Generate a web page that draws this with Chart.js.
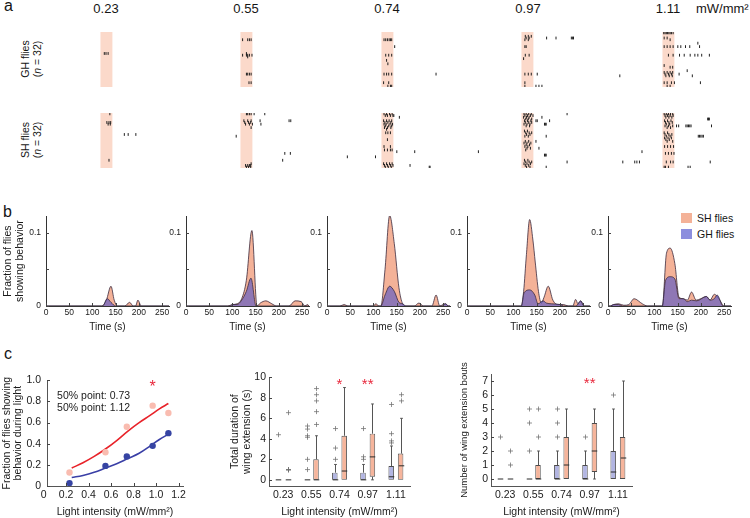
<!DOCTYPE html>
<html>
<head>
<meta charset="utf-8">
<script src="https://cdn.jsdelivr.net/npm/chart.js@4.4.0/dist/chart.umd.min.js"></script>
<style>
  body { margin: 0; background: #fff; }
  #fig { position: relative; width: 750px; height: 518px; overflow: hidden;
         font-family: "Liberation Sans", Arial, sans-serif; color: #151515; }
  #fig canvas { position: absolute; }
  .lbl { position: absolute; white-space: nowrap; line-height: 1; }
  .head { font-size: 13px; transform: translateX(-50%); }
  .rot { position: absolute; white-space: nowrap; font-size: 10.5px; line-height: 12px; text-align: center;
         transform: translate(-50%, -50%) rotate(-90deg); }
  .sw { position: absolute; width: 11px; height: 10px; }
</style>
</head>
<body>
<div id="fig">
  <div class="lbl" style="left:4px;top:-2px;font-size:16px">a</div>
  <div class="lbl" style="left:3px;top:204px;font-size:16px">b</div>
  <div class="lbl" style="left:4px;top:346px;font-size:16px">c</div>

  <div class="lbl head" style="left:106px;top:2px">0.23</div>
  <div class="lbl head" style="left:246px;top:2px">0.55</div>
  <div class="lbl head" style="left:387px;top:2px">0.74</div>
  <div class="lbl head" style="left:528px;top:2px">0.97</div>
  <div class="lbl head" style="left:668px;top:2px">1.11</div>
  <div class="lbl" style="left:696px;top:2px;font-size:13px">mW/mm²</div>

  <div class="rot" style="left:31px;top:59px">GH flies<br>(<i>n</i> = 32)</div>
  <div class="rot" style="left:31px;top:140px">SH flies<br>(<i>n</i> = 32)</div>

  <div class="sw" style="left:681px;top:213px;background:#f4b298"></div>
  <div class="lbl" style="left:697px;top:213px;font-size:10.5px">SH flies</div>
  <div class="sw" style="left:681px;top:229px;background:rgb(140,142,222)"></div>
  <div class="lbl" style="left:697px;top:229px;font-size:10.5px">GH flies</div>
</div>

<script>
// ---- data ----
const intensities = ['0.23', '0.55', '0.74', '0.97', '1.11'];
const lightWindow = [116, 144];

// raster rows: [fly, [times of wing extension (s)]]
const ghRows = [
  [[13, [125, 129, 134]]],
  [[5, [121, 133, 137, 141]], [13, [130]], [14, [121, 130, 133, 137, 143]], [15, [133]], [25, [130, 133, 137, 141]], [30, [136, 141]]],
  [[5, [122, 126, 130, 134, 137, 140]], [9, [147]], [14, [126, 133, 140]], [17, [128]], [19, [131]], [25, [122, 128, 133, 140, 244]], [30, [121, 133]], [32, [131, 137, 140]]],
  [[3, [125, 132, 139]], [4, [127, 134, 175, 197, 233, 236, 238]], [5, [124, 132]], [9, [124, 127]], [14, [125, 134]], [16, [121]], [25, [124, 132, 139, 153]], [30, [124]], [32, [124, 150, 157, 164]]],
  [[1, [119, 122, 125, 128, 131, 134, 137, 141]], [4, [120, 127]], [5, [134]], [7, [199]], [9, [120, 127, 134, 141, 152, 159, 170, 180, 203]], [14, [130, 141, 156, 167, 181, 192, 199, 208, 226]], [20, [120]], [21, [134, 140]], [23, [174]], [24, [120, 127, 134, 140]], [25, [122, 130, 137, 155]], [26, [16, 124, 132, 139, 186]], [30, [120, 127, 137, 144, 205]], [32, [127, 134]]]
];
const shRows = [
  [[1, [138]], [6, [131, 136, 140]], [7, [134, 139]], [13, [172, 181, 199]], [28, [136]]],
  [[1, [130, 133, 137, 141, 148, 173]], [5, [124, 133, 141, 162, 230, 234]], [6, [126, 135, 140]], [7, [128, 137, 144, 164]], [9, [141]], [14, [106]], [24, [220, 233]], [28, [215]], [30, [141]], [31, [128, 133, 137, 140]], [32, [130, 135, 140]]],
  [[1, [122, 128, 135, 141]], [2, [125, 130, 137, 143, 145]], [3, [158]], [5, [121, 128, 134, 140]], [6, [124, 131, 138]], [7, [122, 127, 136, 142]], [8, [125, 133, 140]], [9, [123, 130, 138]], [10, [128]], [12, [126, 131, 137]], [16, [130]], [20, [122, 137]], [22, [123, 130, 137, 141]], [23, [152, 194]], [26, [36, 102]], [30, [121, 128, 135, 141]], [31, [123, 130, 137, 143, 183]], [32, [125, 132, 139, 228, 230]]],
  [[1, [122, 127, 133, 139, 223]], [2, [124, 130, 137, 143]], [3, [121, 128, 134, 164]], [4, [126, 132, 140]], [5, [123, 130, 138, 150, 153, 182]], [6, [125, 133, 140]], [7, [122, 129, 136, 170, 172, 174]], [8, [127, 135]], [11, [123, 130]], [12, [126, 134, 140]], [13, [128, 136]], [14, [124, 132, 174]], [17, [125, 133, 150]], [18, [122, 129, 138]], [19, [127, 135]], [20, [124, 131]], [21, [129, 137, 157]], [22, [126]], [23, [15]], [25, [170, 172, 174]], [28, [123, 131]], [29, [126, 134, 140, 223]], [30, [122, 129, 137]], [31, [125, 133]], [32, [128, 136, 174]]],
  [[1, [120, 125, 130, 135, 140]], [2, [122, 128, 134, 141]], [3, [124, 131, 138]], [4, [222, 224, 226]], [5, [121, 128, 136]], [6, [123, 131, 139]], [7, [125, 133]], [8, [122, 130, 140, 149, 154, 171, 174, 177, 180, 183, 231]], [9, [127, 135]], [12, [120, 128]], [13, [122, 131, 138]], [14, [125, 134, 200, 203, 206, 209, 212]], [15, [121, 129, 137]], [16, [124, 132]], [17, [127, 140]], [20, [121, 128, 135, 142]], [23, [68]], [24, [123, 130, 137, 143]], [29, [23, 51, 56, 62, 125, 135, 141, 228]], [32, [120, 123, 130, 176, 181]]]
];

// fraction of flies showing behaviour: [time (s), fraction]
const shTrace = [
  [[0, 0], [120, 0], [130, 0.008], [140, 0.027], [147, 0.008], [154, 0], [170, 0], [180, 0.005], [188, 0], [193, 0], [198, 0.008], [205, 0], [265, 0]],
  [[0, 0], [90, 0], [100, 0.002], [110, 0.003], [120, 0.01], [130, 0.035], [142, 0.103], [153, 0], [160, 0.004], [172, 0.007], [185, 0.003], [195, 0], [222, 0], [235, 0.007], [248, 0.006], [256, 0], [262, 0.002], [265, 0]],
  [[0, 0], [28, 0], [37, 0.002], [45, 0], [100, 0], [105, 0.003], [112, 0], [116, 0], [125, 0.05], [135, 0.1236], [145, 0.085], [155, 0.025], [163, 0.003], [170, 0], [188, 0], [198, 0.004], [208, 0], [226, 0], [235, 0.015], [243, 0], [250, 0.002], [255, 0.003], [262, 0], [265, 0]],
  [[0, 0], [117, 0], [122, 0.02], [128, 0.07], [135, 0.118], [142, 0.09], [147, 0.06], [154, 0.02], [160, 0.004], [166, 0.012], [175, 0.027], [185, 0.008], [195, 0.002], [208, 0.002], [218, 0], [228, 0], [234, 0.009], [239, 0.003], [245, 0.007], [252, 0], [265, 0]],
  [[0, 0], [5, 0], [12, 0.002], [23, 0.003], [34, 0.001], [45, 0.002], [56, 0.01], [74, 0.003], [85, 0], [117, 0], [126, 0.072], [134, 0.079], [144, 0.058], [153, 0.012], [162, 0.01], [171, 0.008], [180, 0.019], [190, 0.008], [200, 0.01], [212, 0.013], [220, 0.008], [229, 0.016], [239, 0.01], [250, 0], [265, 0]]
];
const ghTrace = [
  [[0, 0], [122, 0], [132, 0.010], [140, 0.005], [150, 0], [265, 0]],
  [[0, 0], [95, 0], [100, 0.002], [110, 0.002], [120, 0.008], [130, 0.02], [140, 0.038], [151, 0], [265, 0]],
  [[0, 0], [116, 0], [125, 0.015], [135, 0.027], [145, 0.02], [155, 0.005], [163, 0.003], [170, 0], [248, 0], [255, 0.003], [262, 0], [265, 0]],
  [[0, 0], [117, 0], [123, 0.018], [135, 0.022], [146, 0.015], [153, 0.003], [164, 0.007], [171, 0.004], [182, 0.003], [201, 0.002], [208, 0], [235, 0], [245, 0.007], [252, 0], [265, 0]],
  [[0, 0], [5, 0], [12, 0.002], [23, 0.002], [31, 0], [117, 0], [124, 0.035], [134, 0.04], [144, 0.037], [153, 0.01], [162, 0.01], [171, 0.006], [180, 0.008], [191, 0.007], [212, 0.013], [220, 0.008], [229, 0.01], [235, 0.015], [248, 0], [265, 0]]
];
const timeTicks = [0, 50, 100, 150, 200, 250];
const fracTicks = [0, 0.05, 0.1];

// panel c, dose response
const lightLevels = [0.23, 0.55, 0.74, 0.97, 1.11];
const shFraction = [0.128, 0.32, 0.56, 0.76, 0.69];
const ghFraction = [0.027, 0.19, 0.28, 0.38, 0.50];
const fitX = [0.25, 0.35, 0.45, 0.55, 0.65, 0.75, 0.85, 0.95, 1.03, 1.11];
const shFitY = [0.17, 0.22, 0.28, 0.35, 0.43, 0.52, 0.60, 0.67, 0.73, 0.78];
const ghFitY = [0.08, 0.10, 0.13, 0.17, 0.21, 0.26, 0.31, 0.38, 0.44, 0.49];
const lightTicks = [0, 0.2, 0.4, 0.6, 0.8, 1.0, 1.2];
const unitTicks = [0, 0.2, 0.4, 0.6, 0.8, 1.0];

// box plots: [min, q1, median, q3, max]
const durGH = [[0, 0, 0, 0, 0], [0, 0, 0, 0, 0], [0, 0, 0, 0.7, 1.5], [0, 0, 0, 0.7, 1.5], [0, 0, 0.3, 1.35, 3.3]];
const durSH = [[0, 0, 0, 0, 0], [0, 0, 0, 2.0, 4.3], [0, 0, 0.86, 4.3, 9.0], [0, 0.3, 2.24, 4.5, 7.4], [0, 0, 1.37, 2.56, 6.0]];
const durGHOut = [[4.4], [5.25, 4.95, 4.3, 4.15, 2.0, 1.0], [5.0, 3.1, 2.0], [5.0, 2.25, 2.0], [7.35, 4.5, 3.8, 3.6]];
const durSHOut = [[6.55, 1.0, 1.0, 0.95], [8.9, 8.3, 7.7, 6.65, 5.4], [], [], [8.3, 7.7]];
const durStars = ['', '', '*', '**', ''];
const durTicks = [0, 2, 4, 6, 8, 10];

const boutGH = [[0, 0, 0, 0, 0], [0, 0, 0, 0, 0], [0, 0, 0, 1, 2], [0, 0, 0, 1, 2], [0, 0, 0.5, 2, 5]];
const boutSH = [[0, 0, 0, 0, 0], [0, 0, 0, 1, 2], [0, 0, 1, 3, 5], [0, 0.5, 2, 4, 5], [0, 0, 1.5, 3, 7]];
const boutGHOut = [[3], [5, 4, 2], [5, 4, 3], [3], [6]];
const boutSHOut = [[2, 1], [5, 3], [], [], []];
const boutStars = ['', '', '', '**', ''];
const boutTicks = [0, 1, 2, 3, 4, 5, 6, 7];

// ---- colours ----
const SH_FILL = '#f4b298';
const GH_FILL = 'rgba(75,80,200,0.6)';
const EDGE = '#3b2b3f';

Chart.defaults.font.family = '"Liberation Sans", Arial, sans-serif';
Chart.defaults.color = '#1a1a1a';
Chart.defaults.animation = false;
Chart.defaults.responsive = false;
Chart.defaults.plugins.legend.display = false;
Chart.defaults.plugins.tooltip.enabled = false;

const fig = document.getElementById('fig');
function makeCtx(left, top, w, h) {
  const c = document.createElement('canvas');
  c.width = w; c.height = h;
  c.style.left = left + 'px'; c.style.top = top + 'px';
  c.style.width = w + 'px'; c.style.height = h + 'px';
  fig.appendChild(c);
  return c.getContext('2d');
}
const setTicks = arr => s => { s.ticks = arr.map(v => ({ value: v })); };

// ---- plugins ----
const lightBox = {
  id: 'lightBox',
  beforeDatasetsDraw(chart, args, opts) {
    const { ctx, chartArea: a, scales: { x } } = chart;
    const x1 = x.getPixelForValue(opts.range[0]), x2 = x.getPixelForValue(opts.range[1]);
    ctx.save();
    ctx.fillStyle = '#fbd9ca';
    ctx.fillRect(x1, a.top, x2 - x1, a.bottom - a.top);
    ctx.restore();
  }
};

const inTicks = {
  id: 'inTicks',
  afterDraw(chart, args, opts) {
    const { ctx, chartArea: a } = chart;
    ctx.save();
    ctx.strokeStyle = '#444';
    ctx.lineWidth = 1;
    (opts.axes || []).forEach(id => {
      const s = chart.scales[id];
      s.ticks.forEach(t => {
        const p = Math.round(s.getPixelForValue(t.value)) + 0.5;
        ctx.beginPath();
        if (s.isHorizontal()) {
          if (p < a.left) return;
          ctx.moveTo(p, a.bottom); ctx.lineTo(p, a.bottom - 3);
        } else {
          ctx.moveTo(a.left, p); ctx.lineTo(a.left + 3, p);
        }
        ctx.stroke();
      });
    });
    ctx.restore();
  }
};

const notes = {
  id: 'notes',
  afterDatasetsDraw(chart, args, opts) {
    const { ctx, scales: { x, y } } = chart;
    ctx.save();
    (opts.items || []).forEach(n => {
      ctx.font = n.font;
      ctx.fillStyle = n.color || '#1a1a1a';
      ctx.textAlign = n.align || 'center';
      ctx.textBaseline = 'middle';
      ctx.fillText(n.text, x.getPixelForValue(n.x), y.getPixelForValue(n.y) + (n.dy || 0));
    });
    ctx.restore();
  }
};

const boxPlot = {
  id: 'boxPlot',
  afterDatasetsDraw(chart) {
    const { ctx, scales: { y } } = chart;
    const line = (x1, y1, x2, y2) => { ctx.beginPath(); ctx.moveTo(x1, y1); ctx.lineTo(x2, y2); ctx.stroke(); };
    chart.data.datasets.forEach((ds, i) => {
      if (!ds.stats) return;
      chart.getDatasetMeta(i).data.forEach((bar, j) => {
        const [mn, q1, md, q3, mx] = ds.stats[j];
        const x = Math.round(bar.x) + 0.5, hw = bar.width / 2;
        ctx.save();
        ctx.lineWidth = 1;
        ctx.strokeStyle = '#555';
        if (mx > q3) {
          line(x, y.getPixelForValue(q3), x, y.getPixelForValue(mx));
          line(x - hw * 0.5, y.getPixelForValue(mx), x + hw * 0.5, y.getPixelForValue(mx));
        }
        if (mn < q1) {
          line(x, y.getPixelForValue(q1), x, y.getPixelForValue(mn));
          line(x - hw * 0.5, y.getPixelForValue(mn), x + hw * 0.5, y.getPixelForValue(mn));
        }
        ctx.strokeStyle = '#2a2a2a';
        line(x - hw, y.getPixelForValue(md), x + hw, y.getPixelForValue(md));
        ctx.strokeStyle = 'rgba(110,110,110,0.75)';
        ds.outliers[j].forEach(v => {
          const p = y.getPixelForValue(v);
          line(x - 2.5, p, x + 2.5, p);
          line(x, p - 2.5, x, p + 2.5);
        });
        ctx.restore();
      });
    });
  }
};

// ---- panel a: rasters ----
const x0s = [46, 186, 327, 467, 608];
const PLOT_W = 123;   // 0..265 s

function rasterChart(left, top, rows) {
  const pts = [];
  rows.forEach(([fly, times]) => times.forEach(t => pts.push({ x: t, y: fly })));
  new Chart(makeCtx(left, top, PLOT_W, 65), {
    type: 'scatter',
    data: {
      datasets: [{
        data: pts,
        pointStyle: 'line',
        pointRotation: 90,
        pointRadius: 1.4,
        pointBorderColor: '#202020',
        pointBorderWidth: 1
      }]
    },
    options: {
      scales: {
        x: { display: false, type: 'linear', min: 0, max: 265 },
        y: { display: false, min: 0.5, max: 32.5, reverse: true }
      },
      plugins: { lightBox: { range: lightWindow } }
    },
    plugins: [lightBox]
  });
}

intensities.forEach((lvl, k) => {
  rasterChart(x0s[k], 27, ghRows[k]);
  rasterChart(x0s[k], 108, shRows[k]);
});

// ---- panel b: fraction over time ----
function behaviorChart(k) {
  const first = k === 0;
  const yW = first ? 46 : 28;
  new Chart(makeCtx(x0s[k] - yW, 206, yW + PLOT_W + 10, 127), {
    type: 'line',
    data: {
      datasets: [
        { data: ghTrace[k], backgroundColor: GH_FILL, borderColor: EDGE, fill: 'origin' },
        { data: shTrace[k], backgroundColor: SH_FILL, borderColor: EDGE, fill: 'origin' }
      ]
    },
    options: {
      layout: { padding: { top: 8, right: 10 } },
      elements: {
        point: { radius: 0 },
        line: { borderWidth: 0.8, cubicInterpolationMode: 'monotone' }
      },
      scales: {
        x: {
          type: 'linear', min: 0, max: 265,
          afterBuildTicks: setTicks(timeTicks),
          afterFit: s => { s.height = 27; },
          grid: { display: false, drawTicks: false },
          border: { color: '#333' },
          ticks: { font: { size: 8.5 }, padding: 2, maxRotation: 0, autoSkip: false },
          title: { display: true, text: 'Time (s)', font: { size: 10 }, padding: { top: 0, bottom: 0 } }
        },
        y: {
          min: 0, max: 0.1227,
          afterBuildTicks: setTicks(fracTicks),
          afterFit: s => { s.width = yW; },
          grid: { display: false, drawTicks: false },
          border: { color: '#333' },
          ticks: { font: { size: 8.5 }, padding: 5, callback: v => (v === 0 ? '0' : v === 0.1 ? '0.1' : '') },
          title: {
            display: first,
            text: ['Fraction of flies', 'showing behavior'],
            font: { size: 10.5, lineHeight: 1.15 },
            padding: { top: 2, bottom: 0 }
          }
        }
      },
      plugins: { inTicks: { axes: ['x', 'y'] } }
    },
    plugins: [inTicks]
  });
}
intensities.forEach((lvl, k) => behaviorChart(k));

// ---- panel c1: dose response ----
const pairs = (xs, ys) => xs.map((x, i) => [x, ys[i]]);
new Chart(makeCtx(0, 368, 195, 150), {
  type: 'scatter',
  data: {
    datasets: [
      { data: pairs(lightLevels, ghFraction), pointBackgroundColor: '#3644a3', pointBorderWidth: 0, pointRadius: 3.2 },
      { data: pairs(lightLevels, shFraction), pointBackgroundColor: '#f9bcb0', pointBorderWidth: 0, pointRadius: 3.2 },
      { data: pairs(fitX, shFitY), showLine: true, borderColor: '#e8232a', borderWidth: 1.6, pointRadius: 0, tension: 0.4 },
      { data: pairs(fitX, ghFitY), showLine: true, borderColor: '#3a3fa6', borderWidth: 1.6, pointRadius: 0, tension: 0.4 }
    ]
  },
  options: {
    layout: { padding: { top: 8, right: 12 } },
    scales: {
      x: {
        type: 'linear', min: 0.03, max: 1.24,
        afterBuildTicks: setTicks(lightTicks),
        afterFit: s => { s.height = 32; },
        grid: { display: false, drawTicks: false },
        border: { color: '#555' },
        ticks: { font: { size: 10.5 }, padding: 3, autoSkip: false, maxRotation: 0, callback: v => (v === 0 ? '0' : v.toFixed(1)) },
        title: { display: true, text: 'Light intensity (mW/mm²)', font: { size: 10.5 }, padding: { top: 0, bottom: 0 } }
      },
      y: {
        min: 0, max: 1,
        afterBuildTicks: setTicks(unitTicks),
        afterFit: s => { s.width = 47; },
        grid: { display: false, drawTicks: false },
        border: { color: '#555' },
        ticks: { font: { size: 10.5 }, padding: 6, callback: v => (v === 0 ? '0' : v.toFixed(1)) },
        title: {
          display: true,
          text: ['Fraction of flies showing', 'behavior during light'],
          font: { size: 10.5, lineHeight: 1.1 },
          padding: { top: 1, bottom: 0 }
        }
      }
    },
    plugins: {
      inTicks: { axes: ['x', 'y'] },
      notes: {
        items: [
          { x: 0.12, y: 0.85, text: '50% point: 0.73', font: '10.5px "Liberation Sans", Arial', align: 'left' },
          { x: 0.12, y: 0.74, text: '50% point: 1.12', font: '10.5px "Liberation Sans", Arial', align: 'left' },
          { x: 0.97, y: 0.966, text: '*', font: '16px "Liberation Sans", Arial', color: '#e8283c', dy: 3.5 }
        ]
      }
    }
  },
  plugins: [inTicks, notes]
});

// ---- panel c2 / c3: box plots ----
function boxChart(o) {
  const h = o.padTop + o.plotH + 32;
  new Chart(makeCtx(o.left, 518 - h, o.yW + 141 + 12, h), {
    type: 'bar',
    data: {
      labels: intensities,
      datasets: [
        { data: o.gh.map(s => [s[1], s[3]]), stats: o.gh, outliers: o.ghOut, backgroundColor: '#b2b5e2',
          borderColor: '#4d4d4d', borderWidth: 0.9, borderSkipped: false, categoryPercentage: 0.667, barPercentage: 0.585 },
        { data: o.sh.map(s => [s[1], s[3]]), stats: o.sh, outliers: o.shOut, backgroundColor: '#f6b59c',
          borderColor: '#4d4d4d', borderWidth: 0.9, borderSkipped: false, categoryPercentage: 0.667, barPercentage: 0.585 }
      ]
    },
    options: {
      layout: { padding: { top: o.padTop, right: 12 } },
      scales: {
        x: {
          afterFit: s => { s.height = 32; },
          grid: { display: false, drawTicks: false },
          border: { color: '#555' },
          ticks: { font: { size: 10.5 }, padding: 3, maxRotation: 0 },
          title: { display: true, text: 'Light intensity (mW/mm²)', font: { size: 10.5 }, padding: { top: 0, bottom: 0 } }
        },
        y: {
          min: o.yMin, max: o.yMax,
          afterBuildTicks: setTicks(o.yTicks),
          afterFit: s => { s.width = o.yW; },
          grid: { display: false, drawTicks: false },
          border: { color: '#555' },
          ticks: { font: { size: 10.5 }, padding: 3 },
          title: { display: true, text: o.title, font: { size: o.titleSize, lineHeight: 1.15 }, padding: { top: o.titlePad, bottom: 0 } }
        }
      },
      plugins: {
        inTicks: { axes: ['y'] },
        notes: {
          items: o.stars.map((s, j) => ({ x: j, y: o.starY, text: s, font: '15px "Liberation Sans", Arial', color: '#e8283c', dy: 3.2 }))
            .filter(n => n.text)
        }
      }
    },
    plugins: [boxPlot, inTicks, notes]
  });
}

boxChart({
  left: 225, yW: 44, plotH: 110, padTop: 8, yMin: -0.6, yMax: 10, yTicks: durTicks,
  gh: durGH, sh: durSH, ghOut: durGHOut, shOut: durSHOut,
  stars: durStars, starY: 9.6,
  title: ['Total duration of', 'wing extension (s)'], titleSize: 10.5, titlePad: 4
});
boxChart({
  left: 451, yW: 40, plotH: 112, padTop: 20, yMin: -0.5, yMax: 7.5, yTicks: boutTicks,
  gh: boutGH, sh: boutSH, ghOut: boutGHOut, shOut: boutSHOut,
  stars: boutStars, starY: 7.05,
  title: 'Number of wing extension bouts', titleSize: 9.5, titlePad: 8
});
</script>
</body>
</html>
